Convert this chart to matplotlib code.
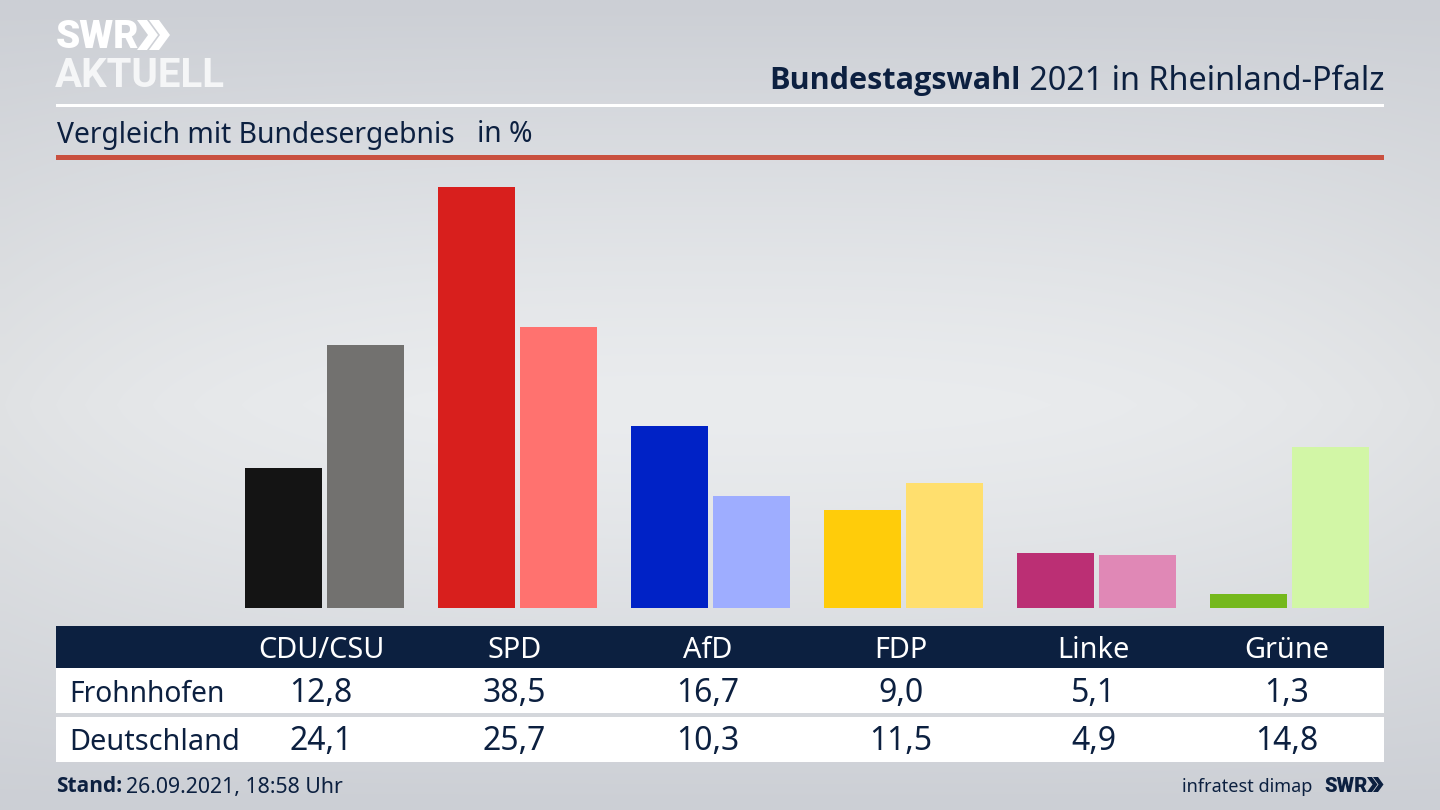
import numpy as np
import matplotlib
matplotlib.use('Agg')
import matplotlib.pyplot as plt
from matplotlib.patches import Rectangle, Polygon

# --- DATA ---
PARTIES = ['CDU/CSU', 'SPD', 'AfD', 'FDP', 'Linke', 'Grüne']
FROHNHOFEN = [12.8, 38.5, 16.7, 9.0, 5.1, 1.3]
DEUTSCHLAND = [24.1, 25.7, 10.3, 11.5, 4.9, 14.8]
FROHNHOFEN_LABELS = ['12,8', '38,5', '16,7', '9,0', '5,1', '1,3']
DEUTSCHLAND_LABELS = ['24,1', '25,7', '10,3', '11,5', '4,9', '14,8']
DARK_COLORS = ['#141414', '#d81f1d', '#0022c6', '#ffcc0a', '#bb2f74', '#74b81c']
LIGHT_COLORS = ['#72716f', '#ff726f', '#9eadff', '#ffdf6e', '#e088b6', '#d2f6a6']

NAVY = '#0c2040'
W, H = 1440, 810
FONT = 'Noto Sans'
BOLD_FONT = 'Open Sans'
plt.rcParams['font.family'] = FONT


def px_axes(fig, x0, y0, x1, y1):
    # axes from pixel box, y counted from the top
    return fig.add_axes([x0 / W, 1 - y1 / H, (x1 - x0) / W, (y1 - y0) / H])


def chevrons(ax, x, y, h, w, gap, thick, color):
    for i in range(2):
        x0 = x + i * gap
        ax.add_patch(Polygon([[x0, y], [x0 + thick, y], [x0 + w, y + h / 2],
                              [x0 + thick, y + h], [x0, y + h], [x0 + w - thick, y + h / 2]],
                             closed=True, fc=color, ec='none'))


fig = plt.figure(figsize=(W / 100, H / 100), dpi=100)

# --- BACKGROUND + LAYOUT LAYER (pixel coordinates) ---
bg = fig.add_axes([0, 0, 1, 1])
yy, xx = np.mgrid[0:1:81j, 0:1:144j]
shade = 1 - np.clip(np.abs(yy - 0.5) / 0.5, 0, 1) ** 1.3
edge = np.clip(np.abs(xx - 0.5) / 0.5, 0, 1) ** 3
val = 204 + 30 * shade - 10 * edge * shade
rgb = np.dstack([val, val + 3 - shade, val + 9 - 5 * shade]) / 255
bg.imshow(np.clip(rgb, 0, 1), extent=(0, W, H, 0), aspect='auto', interpolation='bilinear')
bg.set_xlim(0, W)
bg.set_ylim(H, 0)
bg.axis('off')

bg.add_patch(Rectangle((56, 104), 1328, 3, fc='white', ec='none'))
bg.add_patch(Rectangle((56, 155), 1328, 5, fc='#c9503f', ec='none'))
bg.add_patch(Rectangle((56, 626), 1328, 42, fc=NAVY, ec='none'))
bg.add_patch(Rectangle((56, 668), 1328, 45, fc='white', ec='none'))
bg.add_patch(Rectangle((56, 717), 1328, 45, fc='white', ec='none'))

# logo
bg.text(56, 38, 'SWR', color='white', fontsize=28, fontweight='black', family='Roboto', va='center', ha='left')
chevrons(bg, 137, 20, 30, 21, 12, 10, 'white')
bg.text(55, 76, 'AKTUELL', color='#f5f6f7', fontsize=29, fontweight='bold', family='Roboto', va='center', ha='left')

# title, regular part first so the bold part can sit against it
reg = bg.text(1384, 81, ' 2021 in Rheinland-Pfalz', color=NAVY, fontsize=23.3, va='center', ha='right')
fig.canvas.draw()
ext = reg.get_window_extent()
bg.text(ext.x0, 81, 'Bundestagswahl', color=NAVY, fontsize=22.1, fontweight='bold',
        family=BOLD_FONT, va='center', ha='right')

bg.text(57, 135, 'Vergleich mit Bundesergebnis', color=NAVY, fontsize=20.35, va='center', ha='left')
bg.text(477, 135, 'in %', color=NAVY, fontsize=20.35, va='center', ha='left')

# --- BARS ---
ax = px_axes(fig, 56, 160.4, 1384, 608.4)
ax.patch.set_alpha(0)
x = np.arange(len(PARTIES))
ax.bar(x - 41 / 193, FROHNHOFEN, width=76.6 / 193, color=DARK_COLORS)
ax.bar(x + 41 / 193, DEUTSCHLAND, width=76.6 / 193, color=LIGHT_COLORS)
ax.set_xlim((56 - 324.5) / 193, (1384 - 324.5) / 193)
ax.set_ylim(0, 448 / 10.935)
ax.axis('off')

# --- TABLE TEXT ---
for i, party in enumerate(PARTIES):
    cx = 321 + 193.2 * i
    bg.text(cx, 650, party, color='white', fontsize=20.8, ha='center', va='center')
    bg.text(cx, 693, FROHNHOFEN_LABELS[i], color=NAVY, fontsize=23, ha='center', va='center')
    bg.text(cx, 742, DEUTSCHLAND_LABELS[i], color=NAVY, fontsize=23, ha='center', va='center')

bg.text(69.5, 694, 'Frohnhofen', color=NAVY, fontsize=20.3, ha='left', va='center')
bg.text(69.5, 742, 'Deutschland', color=NAVY, fontsize=20.8, ha='left', va='center')

# --- FOOTER ---
bg.text(56, 787, 'Stand:', color=NAVY, fontsize=15, fontweight='bold', family=BOLD_FONT, ha='left', va='center')
bg.text(126, 787, '26.09.2021, 18:58 Uhr', color=NAVY, fontsize=15.3, ha='left', va='center')
bg.text(1312, 787, 'infratest dimap', color=NAVY, fontsize=13, ha='right', va='center')
bg.text(1324, 787, 'SWR', color=NAVY, fontsize=14.5, fontweight='black', family='Roboto', ha='left', va='center')
chevrons(bg, 1367, 777, 15, 10.5, 6, 5, NAVY)

fig.savefig('out.png', dpi=100)
